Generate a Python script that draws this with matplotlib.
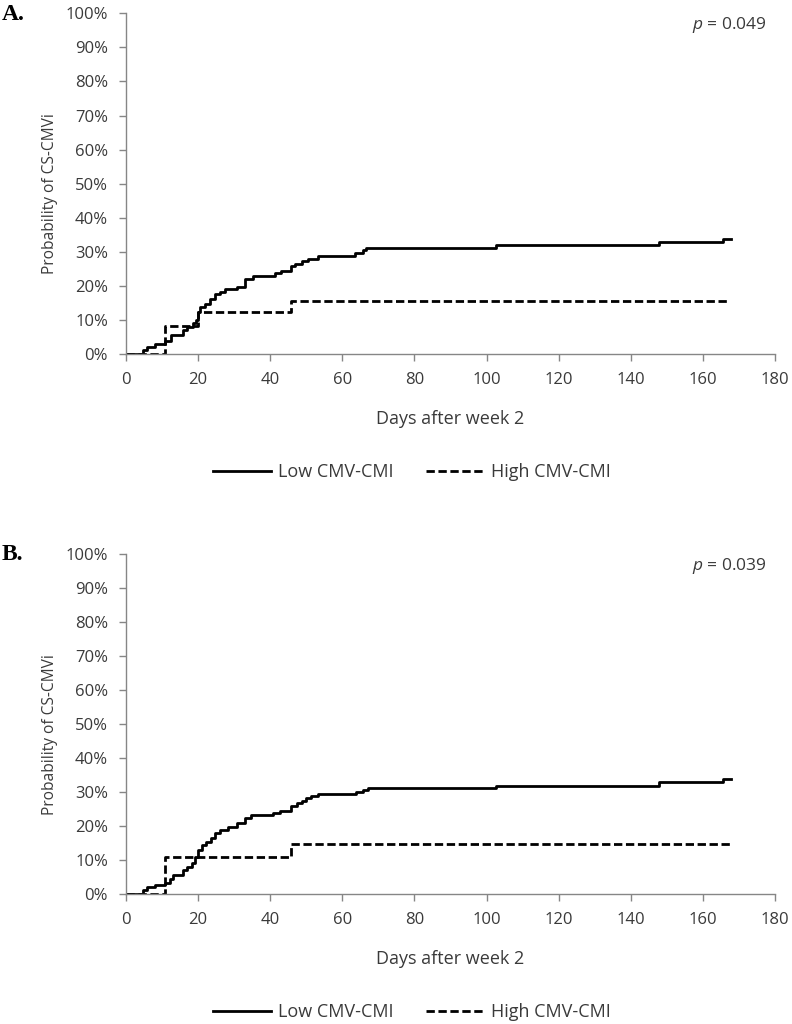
import matplotlib
matplotlib.use("Agg")
import matplotlib.pyplot as plt
from matplotlib.ticker import FuncFormatter

plt.rcParams['font.family'] = ['Open Sans', 'DejaVu Sans']
plt.rcParams['mathtext.fontset'] = 'custom'
plt.rcParams['mathtext.it'] = 'Open Sans:italic'
plt.rcParams['mathtext.rm'] = 'Open Sans'

# ---------------- data ----------------
days_A_low = [0, 4.8, 5.7, 8.0, 10.8, 12.6, 15.9, 17.0, 18.7, 19.4, 20.0, 20.5, 21.9,
              23.3, 24.7, 26.0, 27.4, 30.7, 33.0, 35.3, 41.3, 43.1, 45.9, 46.8, 48.7,
              50.5, 53.3, 63.6, 65.7, 66.7, 102.7, 147.7, 165.5, 167.8]
prob_A_low = [0, 1.2, 2.2, 2.9, 3.9, 5.7, 6.9, 8.0, 9.0, 10.0, 12.3, 13.9, 14.7,
              16.0, 17.5, 18.3, 19.1, 19.8, 22.1, 23.0, 23.7, 24.3, 25.7, 26.5, 27.3,
              27.9, 28.9, 29.6, 30.4, 31.1, 31.9, 32.9, 33.9, 33.9]
days_A_high = [0, 10.8, 20.0, 45.9, 167.3]
prob_A_high = [0, 8.3, 12.4, 15.7, 15.7]

days_B_low = [0, 4.8, 5.7, 8.0, 10.8, 12.2, 13.0, 15.7, 17.0, 18.2, 19.1, 20.0, 21.0,
              22.3, 23.7, 24.7, 26.0, 28.3, 30.7, 33.0, 34.8, 40.8, 42.7, 45.9, 47.3,
              48.7, 50.0, 51.4, 53.3, 63.9, 65.7, 67.1, 102.7, 147.7, 165.5, 167.8]
prob_B_low = [0, 1.2, 2.0, 2.6, 3.1, 4.3, 5.6, 7.0, 8.0, 9.0, 10.8, 13.0, 14.4,
              15.4, 16.4, 17.8, 18.8, 19.8, 20.8, 22.5, 23.2, 23.9, 24.5, 25.9, 26.7,
              27.5, 28.1, 28.8, 29.3, 29.9, 30.6, 31.1, 31.9, 32.9, 33.9, 33.9]
days_B_high = [0, 10.8, 45.7, 167.5]
prob_B_high = [0, 11.0, 14.6, 14.6]

x_ticks = [0, 20, 40, 60, 80, 100, 120, 140, 160, 180]
y_ticks = [0, 10, 20, 30, 40, 50, 60, 70, 80, 90, 100]
panel_labels = ["A.", "B."]
p_values = ["0.049", "0.039"]
series_names = ["Low CMV-CMI", "High CMV-CMI"]

# ---------------- figure ----------------
W, H = 792, 1024
fig = plt.figure(figsize=(W / 100, H / 100), dpi=100)

axis_col = '#868686'
text_col = '#3a3a3a'

panels = [
    (days_A_low, prob_A_low, days_A_high, prob_A_high, 13.3, 354),
    (days_B_low, prob_B_low, days_B_high, prob_B_high, 554, 894),
]
x_left, x_right = 126, 775

for i, (dl, pl, dh, ph, ytop, ybot) in enumerate(panels):
    ax = fig.add_axes([x_left / W, 1 - ybot / H, (x_right - x_left) / W, (ybot - ytop) / H])
    l1, = ax.step(dl, pl, where='post', color='black', lw=2.0)
    l2, = ax.step(dh, ph, where='post', color='black', lw=2.0, linestyle=(0, (3.0, 1.3)))
    ax.set_xlim(0, 180)
    ax.set_ylim(0, 100)
    ax.set_xticks(x_ticks)
    ax.set_yticks(y_ticks)
    ax.yaxis.set_major_formatter(FuncFormatter(lambda v, p: f"{int(v)}%"))
    for s in ['top', 'right']:
        ax.spines[s].set_visible(False)
    for s in ['left', 'bottom']:
        ax.spines[s].set_color(axis_col)
        ax.spines[s].set_linewidth(1.0)
    ax.tick_params(axis='both', colors=axis_col, labelcolor=text_col, labelsize=12,
                   length=5, width=1.0, direction='out')
    ax.tick_params(axis='x', pad=8)
    ax.tick_params(axis='y', pad=8)
    ax.set_xlabel("Days after week 2", fontsize=13, color=text_col, labelpad=15.5)
    ax.set_ylabel("Probability of CS-CMVi", fontsize=11.2, color=text_col, labelpad=5)
    ax.yaxis.label.set_y(0.47)
    ax.patch.set_alpha(0)

    ax.text(767 / W, 1 - (ytop + 12) / H, f"$p$ = {p_values[i]}", transform=fig.transFigure,
            ha='right', va='center', fontsize=12.5, color=text_col)
    fig.text(2 / W, 1 - (ytop + 1) / H, panel_labels[i], ha='left', va='center',
             fontsize=17, fontweight='bold', family='Liberation Serif', color='black')

    fig.legend([l1, l2], series_names, loc='center', ncol=2,
               bbox_to_anchor=(412 / W, 1 - (ybot + 118) / H), frameon=False,
               fontsize=13, handlelength=3.2, handletextpad=0.4, columnspacing=1.8,
               labelcolor=text_col)

fig.savefig("out.png", dpi=100)
